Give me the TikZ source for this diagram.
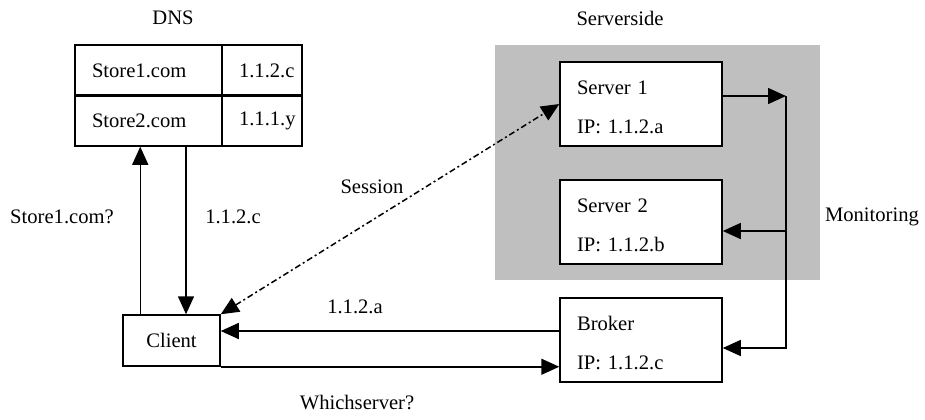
\documentclass[tikz,border=0pt]{standalone}
\usepackage{fontspec}
\setmainfont{Liberation Serif}
\usepackage{tikz}
\usetikzlibrary{shapes, arrows.meta, positioning}
\usetikzlibrary{calc}

\begin{document}
\begin{tikzpicture}
  [
    x=0.5pt, y=-0.5pt,
    font=\fontsize{10.3}{12}\selectfont,
    Cell/.style={rectangle, draw=black, line width=0.75pt, inner ysep=0pt, inner xsep=8.5pt, align=left,
                 minimum height=25.5pt},
    Box/.style={rectangle, draw=black, fill=white, line width=0.75pt, minimum width=81pt, minimum height=42pt,
                text width=64pt, inner xsep=8.5pt, align=left, font=\fontsize{10.3}{19.5}\selectfont},
    Client/.style={rectangle, draw=black, line width=0.75pt, minimum width=48.5pt, minimum height=25.5pt, inner sep=0pt},
    Gray/.style={rectangle, fill=gray!50, minimum width=162.5pt, minimum height=117.5pt, inner sep=0pt},
    Arr/.style={line width=0.75pt, -{Triangle[length=9pt, width=8pt]}}
  ]
  \useasboundingbox (0,0) rectangle (925,419);

  % Nodes
  \node[Gray] (side) at (657.5, 162.5) {};
  \node (dnslbl) at (173, 18) {DNS};
  \node (sidelbl) at (620, 18) {Serverside};

  \node[Cell, text width=56.5pt] (st1) at (148.5, 70.5) {Store1.com};
  \node[Cell, text width=23pt] (ip1) at (262, 70.5) {1.1.2.c};
  \node[Cell, text width=56.5pt] (st2) at (148.5, 120.5) {Store2.com};
  \node[Cell, text width=23pt] (ip2) at (262, 120.5) {1.1.1.y};

  \node[Box] (s1) at (641, 104) {\rule{0pt}{10pt}Server 1\\IP: 1.1.2.a};
  \node[Box] (s2) at (641, 222) {\rule{0pt}{10pt}Server 2\\IP: 1.1.2.b};
  \node[Box] (br) at (641, 340) {\rule{0pt}{10pt}Broker\\IP: 1.1.2.c};
  \node[Client] (client) at (171.5, 340.5) {Client};

  \coordinate (mon) at (786, 96);
  \coordinate (mon2) at (786, 231);

  % Lines
  \draw[Arr] ([xshift=9pt]client.north west) -- ([xshift=9pt]client.north west |- st2.south);
  \node (q) at (62, 217) {Store1.com?};
  \draw[Arr] ([xshift=18.75pt]st2.south) -- ([xshift=18.75pt]st2.south |- client.north);
  \node (a) at (233, 217) {1.1.2.c};

  \draw[Arr, {Triangle[length=9pt, width=8pt]}-{Triangle[length=9pt, width=8pt]},
        dash pattern=on 3pt off 1.5pt on 1pt off 1.5pt] (client.north east) -- (s1.west);
  \node (sess) at (372, 187) {Session};

  \draw[Arr] ([yshift=4.5pt]br.west) -- ([yshift=4.5pt]br.west -| client.east);
  \node (ans) at (355, 307) {1.1.2.a};
  \draw[Arr] (client.south east) -- (client.south east -| br.west);
  \node (ask) at (357, 402) {Whichserver?};

  \draw[Arr] ([yshift=4pt]s1.east) -- (mon);
  \draw[Arr] (mon) |- ([yshift=-4pt]br.east);
  \draw[Arr] (mon2) -- (mon2 -| s2.east);
  \node[anchor=west] (mlbl) at (818, 217) {Monitoring};

\end{tikzpicture}
\end{document}
